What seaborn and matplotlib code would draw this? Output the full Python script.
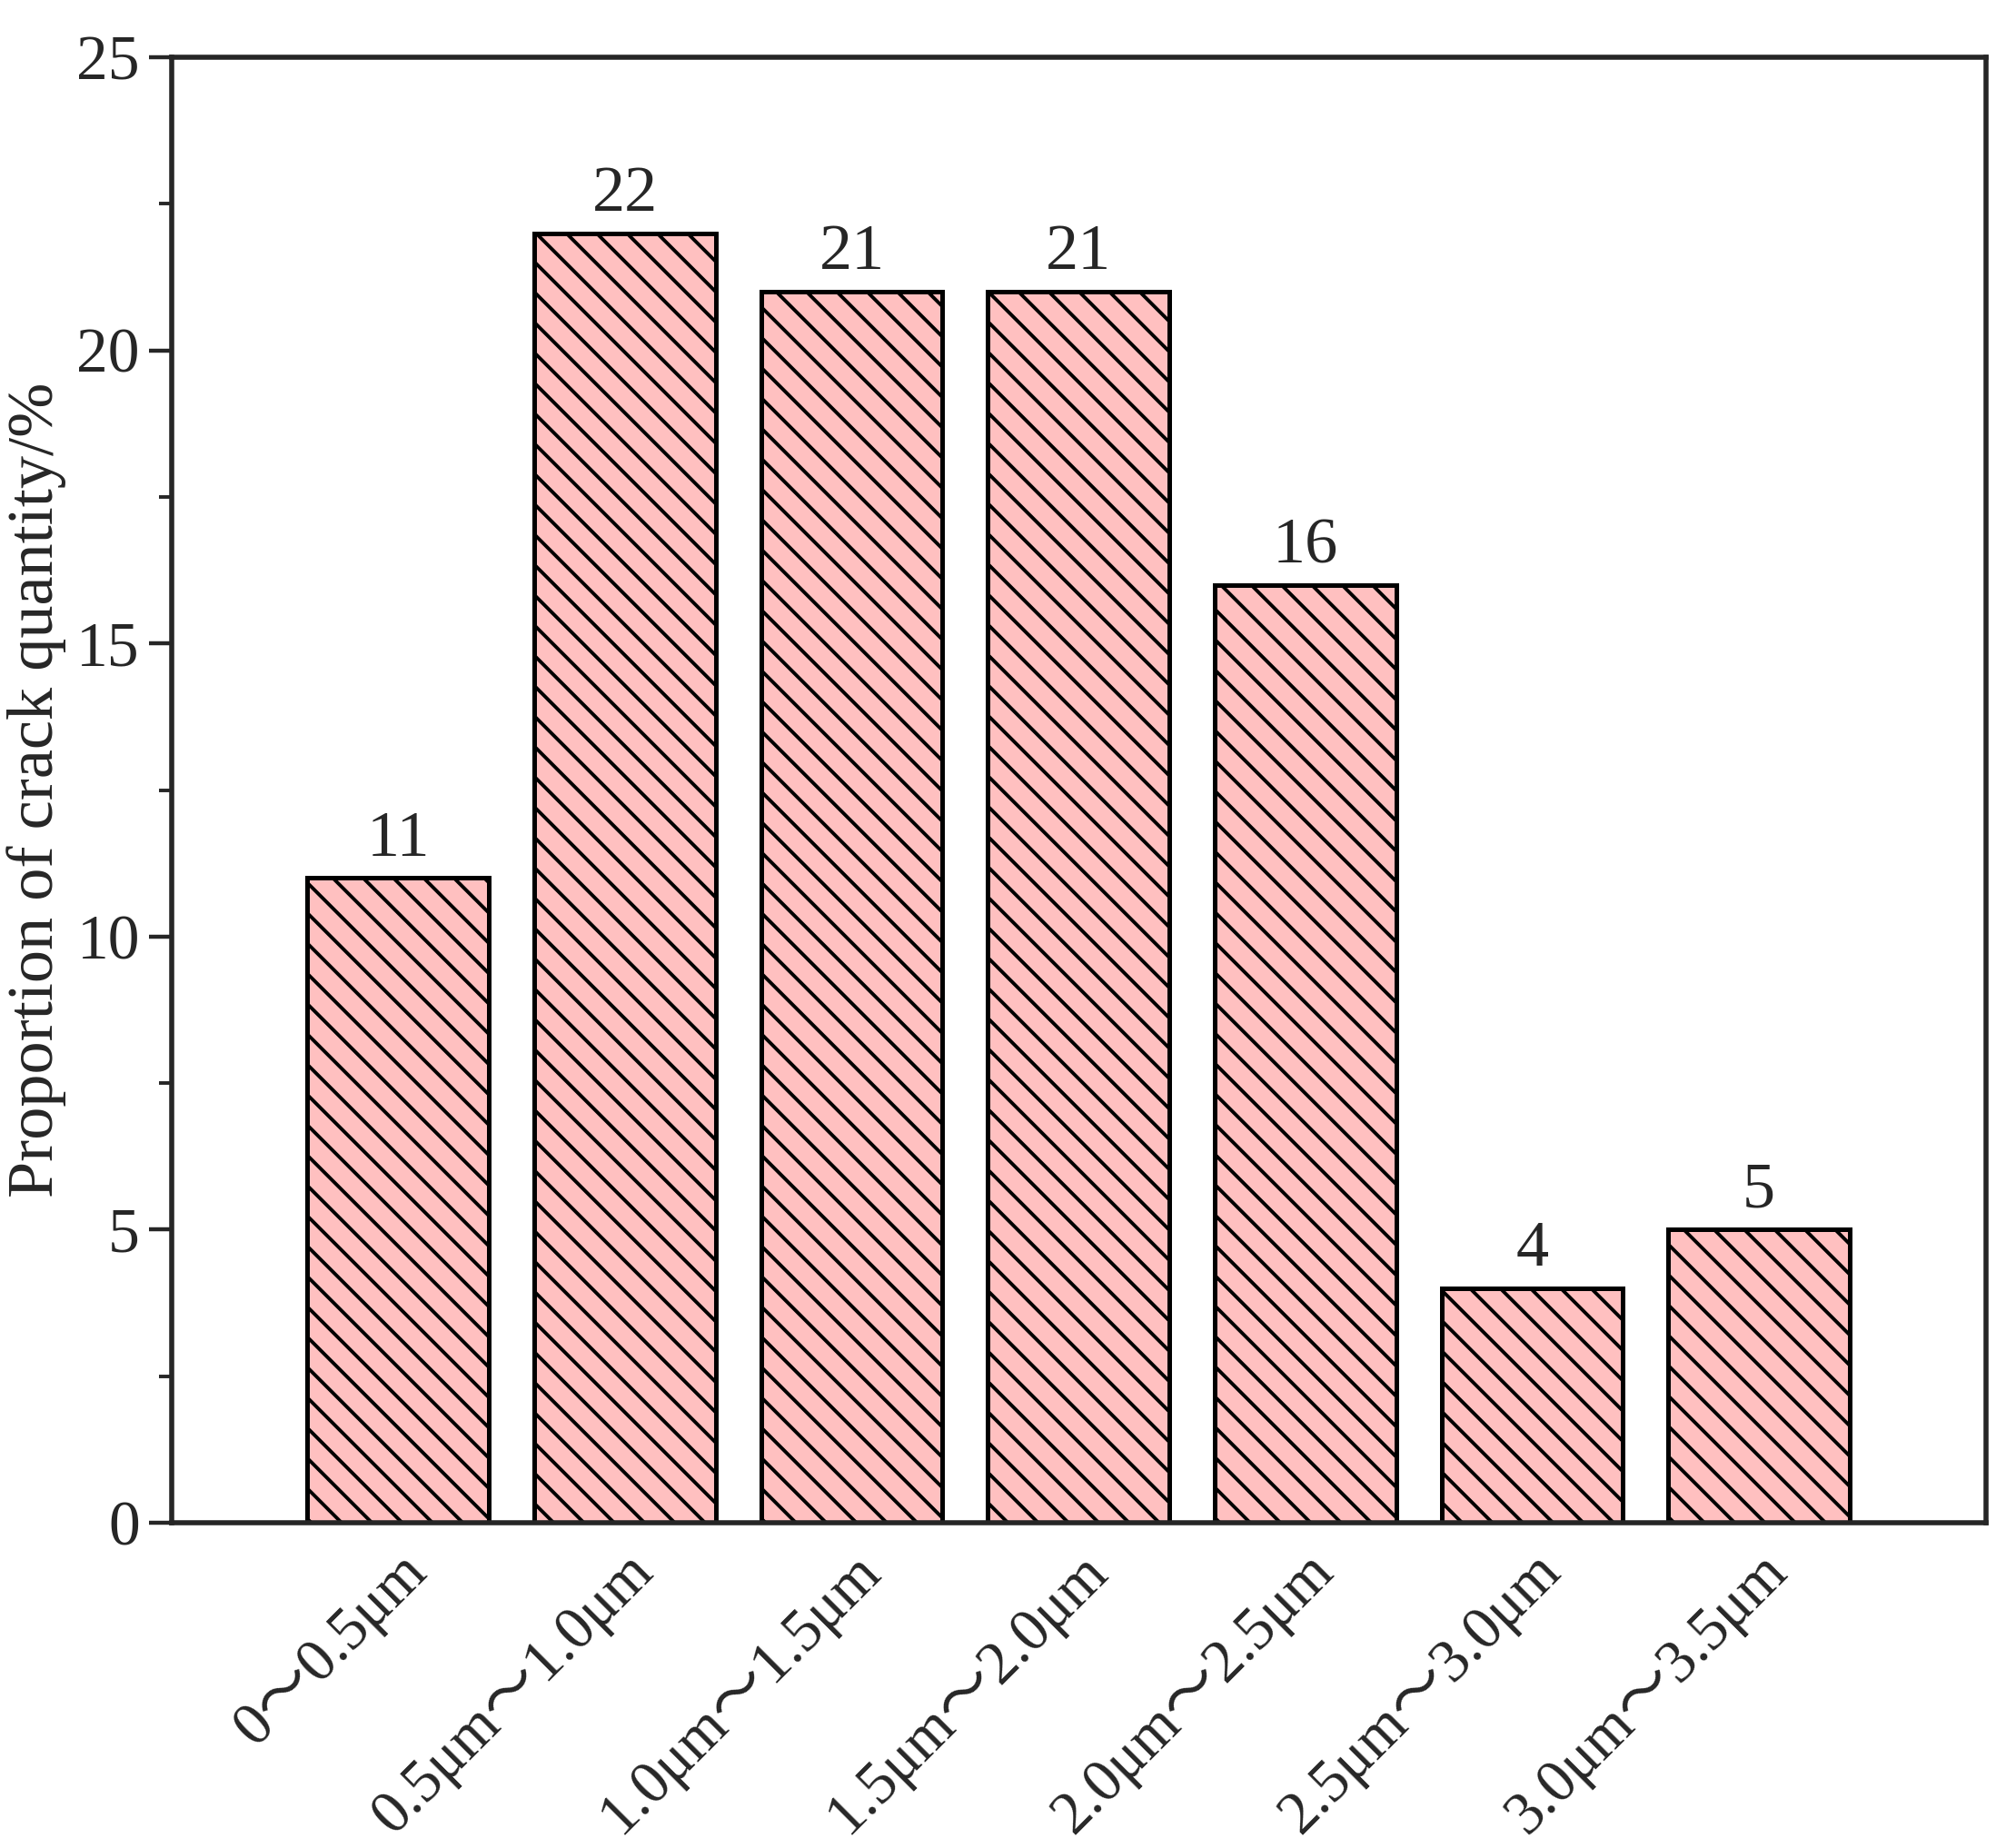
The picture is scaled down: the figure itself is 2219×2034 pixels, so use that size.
import matplotlib
matplotlib.use("Agg")
import matplotlib.pyplot as plt
import seaborn as sns
import pandas as pd

sns.set_style("ticks")
plt.rcParams['font.family'] = ['Liberation Serif', 'Noto Sans CJK SC', 'DejaVu Sans']
plt.rcParams['hatch.linewidth'] = 1.4
plt.rcParams['mathtext.fontset'] = 'stix'

# -------- 数据 --------
categories = ["0～0.5μm", "0.5μm～1.0μm", "1.0μm～1.5μm", "1.5μm～2.0μm",
              "2.0μm～2.5μm", "2.5μm～3.0μm", "3.0μm～3.5μm"]
values = [11, 22, 21, 21, 16, 4, 5]
df = pd.DataFrame({"cat": categories, "val": values})

fig = plt.figure(figsize=(11.095, 10.17), dpi=200)
ax = fig.add_axes([0.085, 0.176, 0.9, 0.793])
sns.barplot(data=df, x="cat", y="val", color="#FFC0C0", width=0.8,
            edgecolor="black", linewidth=1.8, saturation=1, ax=ax)
for p in ax.patches:
    p.set_hatch('\\\\')

for i, v in enumerate(values):
    ax.text(i, v + 0.15, str(v), ha='center', va='bottom', fontsize=26)

ax.set_xlim(-1, 7)
ax.set_ylim(0, 25)
ax.set_yticks(range(0, 26, 5))
ax.set_yticks([2.5, 7.5, 12.5, 17.5, 22.5], minor=True)
ax.tick_params(axis='y', labelsize=25, width=1.6, length=9, direction='out')
ax.tick_params(axis='y', which='minor', width=1.4, length=5)
ax.tick_params(axis='x', length=0, labelsize=24, pad=8)
plt.setp(ax.get_xticklabels(), rotation=45, ha='right', rotation_mode='anchor')
ax.set_xlabel("")
ax.set_ylabel("Proportion of crack quantity/%", fontsize=26)
for s in ax.spines.values():
    s.set_linewidth(2)

fig.savefig("out.png", dpi=200)
